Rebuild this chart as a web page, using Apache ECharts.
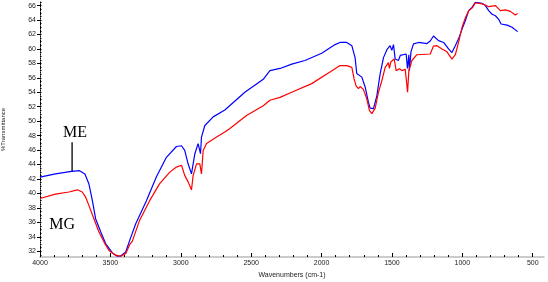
<!DOCTYPE html>
<html><head><meta charset="utf-8">
<script src="https://cdn.jsdelivr.net/npm/echarts@6/dist/echarts.min.js"></script>
<style>html,body{margin:0;padding:0;background:#fff}#c{width:548px;height:282px}</style>
</head><body><div id="c"></div>
<script>
// ME (blue) spectrum: wavenumber (cm-1) and %Transmittance
const wnME = [4000,3890,3776,3719,3681,3653,3628,3605,3569,3534,3486,3451,3427,3391,3363,3320,3244,3173,3102,3031,2995,2972,2948,2924,2900,2877,2860,2853,2829,2770,2687,2545,2414,2367,2295,2212,2118,1999,1904,1869,1821,1785,1762,1750,1714,1690,1667,1655,1631,1607,1584,1560,1536,1513,1501,1489,1477,1454,1441,1399,1390,1380,1376,1365,1347,1311,1251,1228,1205,1192,1169,1133,1098,1074,1050,1027,1002,979,955,931,908,860,836,813,789,765,742,725,682,647,607];
const tME  = [42.25,42.7,43.05,43.15,42.7,41.35,39.0,36.5,34.7,33.06,31.77,31.3,31.35,31.9,33.5,35.8,39.0,42.3,45.0,46.5,46.6,45.95,44.1,42.7,45.5,46.9,45.5,47.8,49.4,50.6,51.55,54.0,55.8,57.0,57.3,57.9,58.4,59.4,60.6,60.9,60.9,60.45,58.8,56.6,56.1,54.7,52.6,51.8,51.75,53.55,56.55,58.8,59.9,60.45,59.8,60.6,58.6,58.4,59.1,59.3,57.3,59.2,57.0,59.6,60.7,60.9,60.75,61.1,61.8,62.05,61.15,60.9,60.0,59.5,60.45,61.4,62.75,63.9,65.3,65.75,66.45,66.3,66.0,65.3,64.8,64.6,64.1,63.45,63.3,63.0,62.4];
// MG (red) spectrum
const wnMG = [4000,3890,3795,3735,3700,3676,3653,3617,3582,3546,3510,3463,3427,3391,3363,3344,3292,3221,3150,3078,3031,2995,2972,2948,2924,2912,2888,2865,2853,2841,2817,2746,2687,2651,2533,2414,2367,2295,2212,2070,1940,1869,1821,1785,1769,1755,1738,1726,1703,1679,1660,1643,1619,1596,1572,1548,1525,1518,1508,1484,1470,1446,1429,1406,1389,1380,1358,1323,1228,1205,1180,1145,1109,1098,1074,1050,1027,1002,979,955,931,908,849,813,765,730,694,659,624,607];
const tMG  = [39.3,39.9,40.2,40.5,40.2,39.5,38.35,36.5,34.7,33.3,32.1,31.45,31.3,31.7,32.9,33.4,36.3,39.0,41.35,42.95,43.65,43.9,42.5,41.6,40.5,42.5,44.1,44.1,42.7,45.95,46.9,47.8,48.5,49.0,50.8,52.15,52.9,53.3,54.0,55.2,56.8,57.7,57.7,57.45,55.85,54.9,54.5,54.8,54.4,53.1,51.5,51.05,51.8,54.0,55.6,57.45,58.1,57.3,58.2,58.6,57.0,57.25,57.0,57.2,54.0,57.0,58.4,59.2,59.3,60.4,60.45,60.0,59.6,59.4,58.6,59.2,60.9,63.0,64.3,65.3,65.65,66.4,66.2,65.85,66.0,65.3,65.4,65.2,64.7,64.9];
// tick labels
const xTicks = [4000,3500,3000,2500,2000,1500,1000,500];
const yTicks = [32,34,36,38,40,42,44,46,48,50,52,54,56,58,60,62,64,66];

const xMinor = []; for (let v = 4000; v >= 400; v -= 100) xMinor.push(v);
const yMinor = []; for (let v = 31.5; v <= 66.5; v += 0.5) yMinor.push(v);

const chart = echarts.init(document.getElementById('c'), null, {renderer:'canvas'});
const lblFont = {fontFamily:'Liberation Sans', fontSize:7, color:'#222'};
chart.setOption({
  animation:false,
  grid: {left:40, right:4, top:2, bottom:25, containLabel:false, outerBoundsMode:'none'},
  xAxis: [{
    type:'value', inverse:true, min:420, max:4000,
    name:'Wavenumbers (cm-1)', nameLocation:'middle', nameGap:12,
    nameTextStyle:{fontFamily:'Liberation Sans', fontSize:7, color:'#222'},
    axisLine:{show:true, lineStyle:{color:'#bbbbbb', width:1.5}},
    axisTick:{show:true, inside:true, length:2, customValues:xMinor.filter(v=>v>=420), lineStyle:{color:'#000'}},
    axisLabel:Object.assign({customValues:xTicks, margin:3, formatter:v=>String(v)}, lblFont),
    splitLine:{show:false}
  },{
    type:'value', inverse:true, min:420, max:4000, position:'bottom',
    axisLine:{show:false},
    axisTick:{show:true, inside:true, length:4, customValues:xTicks, lineStyle:{color:'#000'}},
    axisLabel:{show:false}, splitLine:{show:false}
  }],
  yAxis: [{
    type:'value', min:31.2, max:66.5,
    name:'%Transmittance', nameLocation:'middle', nameGap:34, nameRotate:90,
    nameTextStyle:{fontFamily:'Liberation Sans', fontSize:6, color:'#222'},
    axisLine:{show:true, lineStyle:{color:'#000', type:'dotted', width:1}},
    axisTick:{show:true, length:3, customValues:yTicks, lineStyle:{color:'#000'}},
    axisLabel:Object.assign({customValues:yTicks, margin:4}, lblFont),
    splitLine:{show:false}
  },{
    type:'value', min:31.2, max:66.5, position:'left',
    axisLine:{show:false},
    axisTick:{show:true, inside:true, length:1.5, customValues:yMinor, lineStyle:{color:'#000'}},
    axisLabel:{show:false}, splitLine:{show:false}
  }],
  series: [{
    name:'ME', type:'line', symbol:'none', xAxisIndex:0, yAxisIndex:0,
    lineStyle:{color:'#0000ff', width:1.2}, itemStyle:{color:'#0000ff'},
    data: wnME.map((w,i)=>[w,tME[i]]), z:2
  },{
    name:'MG', type:'line', symbol:'none', xAxisIndex:0, yAxisIndex:0,
    lineStyle:{color:'#ff0000', width:1.2}, itemStyle:{color:'#ff0000'},
    data: wnMG.map((w,i)=>[w,tMG[i]]), z:3
  }]
});
// annotations positioned in data space
const p = (w,v)=>chart.convertToPixel({xAxisIndex:0,yAxisIndex:0},[w,v]);
const me = p(3751,48.4), mg = p(3843,35.7), a1 = p(3772,47.1), a2 = p(3772,42.95);
chart.setOption({graphic:[
  {type:'text', x:me[0], y:me[1], style:{text:'ME', font:'16px "Liberation Serif"', fill:'#000', align:'center', verticalAlign:'middle'}},
  {type:'text', x:mg[0], y:mg[1], style:{text:'MG', font:'16px "Liberation Serif"', fill:'#000', align:'center', verticalAlign:'middle'}},
  {type:'line', shape:{x1:a1[0], y1:a1[1], x2:a2[0], y2:a2[1]}, style:{stroke:'#000', lineWidth:1.3}}
]});
</script></body></html>
